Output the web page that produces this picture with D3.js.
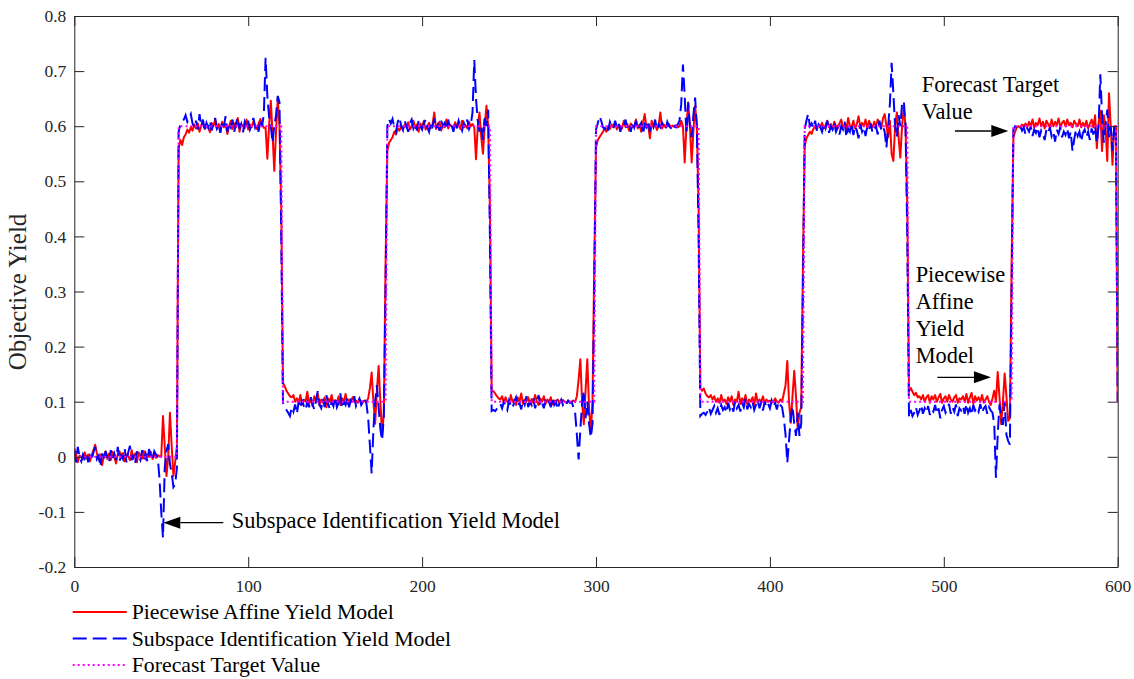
<!DOCTYPE html>
<html><head><meta charset="utf-8">
<script src="https://cdn.jsdelivr.net/npm/d3@7"></script>
<style>
body{margin:0;background:#fff}
svg{display:block}
text{font-family:"Liberation Serif","Times New Roman",serif}
</style>
</head><body>
<svg id="c" width="1134" height="679"></svg>
<script>
// ---------------- data ----------------
const xTicks = [0, 100, 200, 300, 400, 500, 600];
const xTickLabels = ["0", "100", "200", "300", "400", "500", "600"];
const yTicks = [-0.2, -0.1, 0, 0.1, 0.2, 0.3, 0.4, 0.5, 0.6, 0.7, 0.8];
const yTickLabels = ["-0.2", "-0.1", "0", "0.1", "0.2", "0.3", "0.4", "0.5", "0.6", "0.7", "0.8"];
const seriesNames = ["Piecewise Affine Yield Model", "Subspace Identification Yield Model", "Forecast Target Value"];

// Forecast target value (step breakpoints)
const targetT = [0, 59, 60, 119, 120, 179, 180, 239, 240, 299, 300, 359, 360, 419, 420, 479, 480, 539, 540, 599, 600];
const targetV = [0, 0, 0.6, 0.6, 0.1, 0.1, 0.6, 0.6, 0.1, 0.1, 0.6, 0.6, 0.1, 0.1, 0.6, 0.6, 0.1, 0.1, 0.6, 0.6, 0.1];

// Piecewise affine yield model, samples t = 0..600
const red = [
0.015,0.005,-0.01,0.002,0,-0.005,0.008,-0.003,0.004,-0.008,
0.003,0.012,0.022,0.006,-0.005,0.004,-0.015,0.002,0.01,-0.004,
0.006,-0.006,0.009,0,-0.012,0.005,0.01,-0.002,0.007,-0.008,
0.004,0,-0.006,0.012,-0.004,0.006,-0.01,0.008,0.002,-0.003,
0.01,-0.005,0.004,0,0.009,-0.004,0.006,-0.002,0.003,0.001,
0,0.074,0.02,-0.035,0,0.08,0.02,-0.035,-0.01,0.02,
0.56,0.575,0.566,0.58,0.585,0.594,0.588,0.598,0.592,0.603,
0.596,0.605,0.59,0.601,0.608,0.595,0.603,0.598,0.589,0.606,
0.6,0.612,0.595,0.604,0.59,0.608,0.598,0.603,0.586,0.6,
0.61,0.595,0.605,0.598,0.615,0.59,0.604,0.6,0.596,0.612,
0.594,0.603,0.598,0.609,0.6,0.595,0.605,0.613,0.603,0.597,
0.597,0.541,0.6,0.646,0.586,0.519,0.59,0.65,0.6,0.45,
0.134,0.128,0.12,0.115,0.11,0.108,0.112,0.1,0.106,0.098,
0.112,0.095,0.104,0.1,0.118,0.096,0.105,0.092,0.11,0.1,
0.114,0.094,0.104,0.098,0.108,0.09,0.106,0.1,0.112,0.096,
0.103,0.098,0.11,0.094,0.106,0.1,0.114,0.096,0.104,0.1,
0.108,0.1,0.102,0.098,0.104,0.1,0.099,0.102,0.1,0.106,
0.125,0.153,0.1,0.06,0.12,0.165,0.1,0.04,0.08,0.35,
0.555,0.57,0.575,0.58,0.59,0.585,0.596,0.592,0.6,0.595,
0.603,0.598,0.607,0.594,0.6,0.61,0.597,0.603,0.59,0.605,
0.598,0.61,0.594,0.6,0.606,0.596,0.603,0.625,0.595,0.6,
0.608,0.592,0.604,0.598,0.612,0.596,0.603,0.6,0.593,0.607,
0.6,0.604,0.595,0.61,0.598,0.602,0.596,0.608,0.6,0.604,
0.598,0.54,0.6,0.625,0.58,0.55,0.6,0.637,0.6,0.45,
0.12,0.119,0.115,0.11,0.106,0.104,0.11,0.098,0.108,0.1,
0.096,0.112,0.1,0.104,0.094,0.108,0.1,0.115,0.096,0.104,
0.1,0.108,0.095,0.105,0.098,0.112,0.1,0.094,0.106,0.1,
0.11,0.096,0.104,0.1,0.108,0.095,0.102,0.1,0.104,0.098,
0.1,0.103,0.1,0.098,0.101,0.1,0.099,0.102,0.1,0.11,
0.14,0.177,0.1,0.059,0.12,0.177,0.09,0.044,0.1,0.35,
0.561,0.575,0.58,0.585,0.59,0.596,0.59,0.6,0.595,0.603,
0.598,0.606,0.594,0.602,0.6,0.596,0.61,0.598,0.604,0.592,
0.605,0.598,0.6,0.612,0.596,0.603,0.59,0.606,0.622,0.598,
0.603,0.578,0.61,0.598,0.604,0.593,0.6,0.625,0.596,0.603,
0.598,0.6,0.604,0.597,0.601,0.599,0.602,0.598,0.6,0.61,
0.6,0.534,0.6,0.643,0.6,0.534,0.59,0.637,0.6,0.45,
0.125,0.12,0.124,0.115,0.11,0.108,0.112,0.104,0.11,0.1,
0.106,0.098,0.112,0.1,0.104,0.096,0.108,0.1,0.11,0.094,
0.104,0.1,0.118,0.096,0.106,0.1,0.112,0.095,0.104,0.1,
0.108,0.094,0.115,0.098,0.104,0.1,0.11,0.096,0.104,0.1,
0.102,0.098,0.1,0.106,0.1,0.098,0.104,0.1,0.115,0.13,
0.174,0.1,0.062,0.11,0.156,0.11,0.05,0.08,0.09,0.35,
0.564,0.578,0.584,0.59,0.586,0.595,0.6,0.594,0.603,0.598,
0.606,0.596,0.602,0.61,0.598,0.604,0.594,0.608,0.6,0.596,
0.605,0.612,0.598,0.603,0.594,0.615,0.6,0.598,0.61,0.596,
0.604,0.618,0.598,0.606,0.6,0.612,0.596,0.61,0.602,0.598,
0.608,0.6,0.612,0.604,0.596,0.614,0.622,0.6,0.58,0.61,
0.55,0.537,0.6,0.625,0.58,0.543,0.6,0.634,0.6,0.45,
0.119,0.125,0.118,0.112,0.116,0.108,0.11,0.104,0.112,0.1,
0.108,0.112,0.098,0.11,0.104,0.112,0.1,0.108,0.114,0.098,
0.106,0.11,0.1,0.112,0.104,0.1,0.108,0.112,0.098,0.106,
0.104,0.11,0.1,0.114,0.098,0.108,0.116,0.096,0.11,0.102,
0.108,0.1,0.112,0.098,0.104,0.11,0.1,0.094,0.106,0.12,
0.1,0.154,0.11,0.059,0.1,0.151,0.11,0.065,0.07,0.35,
0.579,0.59,0.598,0.6,0.597,0.603,0.6,0.605,0.598,0.608,
0.6,0.612,0.598,0.606,0.602,0.614,0.6,0.608,0.596,0.61,
0.604,0.598,0.612,0.6,0.608,0.602,0.614,0.598,0.606,0.61,
0.6,0.612,0.602,0.606,0.598,0.61,0.604,0.6,0.612,0.598,
0.606,0.6,0.61,0.596,0.604,0.612,0.598,0.62,0.56,0.605,
0.628,0.555,0.62,0.6,0.537,0.66,0.6,0.53,0.6,0.6,
0.1
];

// Subspace identification yield model, samples t = 0..600
const blue = [
0.01,-0.01,0.018,0,-0.008,0.004,-0.003,0.006,-0.01,0.002,
-0.005,0.008,0.018,-0.004,0.002,-0.018,0.006,-0.006,0.01,0,
-0.01,0.012,-0.003,0.006,-0.006,0.018,-0.008,0.003,-0.004,0.014,
-0.01,0.008,0.02,-0.006,0.004,-0.012,0.01,0,-0.006,0.012,
-0.004,0.006,-0.008,0.014,0,-0.006,0.01,0.004,-0.002,-0.04,
-0.1,-0.147,-0.02,0.01,0.023,-0.013,-0.03,-0.055,-0.05,-0.02,
0.59,0.603,0.608,0.612,0.62,0.608,0.615,0.622,0.605,0.598,
0.61,0.594,0.622,0.6,0.612,0.59,0.606,0.598,0.61,0.592,
0.605,0.615,0.596,0.603,0.588,0.61,0.6,0.618,0.59,0.605,
0.598,0.612,0.59,0.606,0.615,0.595,0.604,0.589,0.608,0.6,
0.61,0.594,0.603,0.615,0.598,0.606,0.59,0.612,0.6,0.622,
0.724,0.655,0.618,0.6,0.57,0.6,0.62,0.655,0.643,0.4,
0.098,0.09,0.085,0.08,0.074,0.09,0.082,0.095,0.078,0.1,
0.088,0.104,0.092,0.085,0.1,0.09,0.108,0.095,0.086,0.102,
0.119,0.094,0.088,0.105,0.09,0.112,0.096,0.086,0.1,0.092,
0.108,0.09,0.098,0.115,0.088,0.1,0.094,0.108,0.09,0.102,
0.096,0.11,0.092,0.1,0.106,0.094,0.1,0.108,0.096,0.07,
0.02,-0.03,0.05,0.1,0.13,0.09,0.05,0.03,0.074,0.3,
0.6,0.613,0.605,0.613,0.598,0.59,0.608,0.616,0.6,0.593,
0.61,0.6,0.59,0.606,0.612,0.596,0.604,0.592,0.61,0.6,
0.594,0.605,0.612,0.598,0.59,0.608,0.6,0.614,0.596,0.603,
0.592,0.61,0.6,0.606,0.594,0.612,0.598,0.604,0.59,0.608,
0.596,0.61,0.6,0.592,0.606,0.598,0.612,0.595,0.603,0.625,
0.72,0.65,0.61,0.59,0.6,0.575,0.62,0.6,0.63,0.4,
0.083,0.085,0.083,0.087,0.09,0.096,0.088,0.1,0.092,0.085,
0.102,0.094,0.088,0.1,0.108,0.092,0.098,0.086,0.104,0.095,
0.11,0.09,0.1,0.094,0.106,0.088,0.1,0.112,0.092,0.098,
0.088,0.104,0.096,0.1,0.09,0.108,0.094,0.1,0.086,0.098,
0.104,0.094,0.1,0.096,0.102,0.098,0.1,0.09,0.08,0.04,
-0.005,0.05,0.096,0.12,0.07,0.1,0.06,0.035,0.06,0.3,
0.594,0.605,0.618,0.61,0.598,0.595,0.603,0.592,0.608,0.6,
0.596,0.61,0.598,0.606,0.59,0.604,0.6,0.612,0.596,0.603,
0.59,0.608,0.598,0.61,0.594,0.6,0.606,0.585,0.603,0.598,
0.61,0.59,0.604,0.598,0.612,0.594,0.603,0.598,0.606,0.6,
0.594,0.608,0.6,0.597,0.604,0.6,0.598,0.603,0.61,0.64,
0.712,0.655,0.585,0.643,0.6,0.58,0.62,0.652,0.6,0.4,
0.074,0.078,0.08,0.076,0.082,0.09,0.078,0.085,0.092,0.08,
0.088,0.076,0.094,0.085,0.09,0.08,0.098,0.086,0.093,0.082,
0.1,0.088,0.094,0.082,0.098,0.09,0.105,0.086,0.096,0.09,
0.1,0.085,0.094,0.104,0.088,0.098,0.084,0.1,0.09,0.096,
0.088,0.102,0.092,0.098,0.086,0.1,0.094,0.09,0.07,0.04,
-0.011,0.029,0.07,0.092,0.06,0.038,0.08,0.038,0.06,0.3,
0.595,0.61,0.622,0.6,0.605,0.596,0.61,0.592,0.603,0.598,
0.59,0.605,0.596,0.61,0.588,0.6,0.594,0.606,0.59,0.598,
0.585,0.6,0.594,0.608,0.58,0.596,0.59,0.605,0.584,0.6,
0.592,0.578,0.603,0.59,0.598,0.582,0.6,0.594,0.605,0.588,
0.596,0.6,0.585,0.61,0.594,0.6,0.59,0.561,0.6,0.64,
0.715,0.66,0.6,0.58,0.62,0.6,0.64,0.646,0.6,0.4,
0.071,0.085,0.074,0.08,0.09,0.076,0.084,0.094,0.078,0.088,
0.08,0.092,0.076,0.086,0.082,0.094,0.078,0.088,0.07,0.085,
0.092,0.08,0.086,0.096,0.078,0.09,0.082,0.095,0.074,0.088,
0.084,0.092,0.078,0.096,0.08,0.088,0.076,0.094,0.084,0.09,
0.082,0.096,0.08,0.088,0.092,0.078,0.09,0.084,0.08,0.06,
-0.038,0.04,0.095,0.07,0.058,0.1,0.04,0.029,0.022,0.3,
0.594,0.6,0.598,0.596,0.6,0.592,0.598,0.585,0.596,0.59,
0.6,0.582,0.594,0.588,0.598,0.58,0.592,0.586,0.575,0.594,
0.588,0.598,0.582,0.59,0.572,0.594,0.586,0.598,0.58,0.59,
0.584,0.596,0.578,0.59,0.555,0.576,0.594,0.582,0.59,0.572,
0.588,0.594,0.58,0.59,0.575,0.596,0.585,0.6,0.57,0.6,
0.694,0.62,0.57,0.6,0.63,0.58,0.6,0.555,0.6,0.58,
0.1
];

// ---------------- drawing ----------------
const svg = d3.select("#c");
const x = d3.scaleLinear().domain([0, 600]).range([74.3, 1117.7]);
const y = d3.scaleLinear().domain([-0.2, 0.8]).range([567, 16]);
const axisColor = "#262626";
const tickFont = "17.5px";

svg.append("defs").append("clipPath").attr("id", "clip")
  .append("rect").attr("x", x(0)).attr("y", y(0.8))
  .attr("width", x(600) - x(0)).attr("height", y(-0.2) - y(0.8));

const plot = svg.append("g").attr("clip-path", "url(#clip)");

const lineIdx = d3.line().x((d, i) => x(i)).y(d => y(d));
const lineTarget = d3.line().x((d, i) => x(targetT[i])).y(d => y(d));

plot.append("path").datum(red).attr("d", lineIdx)
  .attr("fill", "none").attr("stroke", "#ff0000").attr("stroke-width", 2)
  .attr("stroke-linejoin", "round");
plot.append("path").datum(blue).attr("d", lineIdx)
  .attr("fill", "none").attr("stroke", "#0000ff").attr("stroke-width", 2)
  .attr("stroke-dasharray", "14,6");
plot.append("path").datum(targetV).attr("d", lineTarget)
  .attr("fill", "none").attr("stroke", "#ff00ff").attr("stroke-width", 2)
  .attr("stroke-dasharray", "2,3");

// axes (box with inward ticks)
function styleAxis(g) {
  g.selectAll("path.domain").attr("stroke", axisColor).attr("stroke-width", 1);
  g.selectAll(".tick line").attr("stroke", axisColor);
  g.selectAll(".tick text").attr("fill", axisColor)
    .style("font-family", '"Liberation Serif","Times New Roman",serif')
    .style("font-size", tickFont);
}
svg.append("g").attr("transform", `translate(0,${y(-0.2)})`)
  .call(d3.axisBottom(x).tickValues(xTicks).tickFormat((d, i) => xTickLabels[i])
    .tickSizeInner(-10).tickSizeOuter(0).tickPadding(13))
  .call(styleAxis);
svg.append("g").attr("transform", `translate(0,${y(0.8)})`)
  .call(d3.axisTop(x).tickValues(xTicks).tickFormat("")
    .tickSizeInner(-10).tickSizeOuter(0))
  .call(styleAxis);
svg.append("g").attr("transform", `translate(${x(0)},0)`)
  .call(d3.axisLeft(y).tickValues(yTicks).tickFormat((d, i) => yTickLabels[i])
    .tickSizeInner(-10).tickSizeOuter(0).tickPadding(8))
  .call(styleAxis);
svg.append("g").attr("transform", `translate(${x(600)},0)`)
  .call(d3.axisRight(y).tickValues(yTicks).tickFormat("")
    .tickSizeInner(-10).tickSizeOuter(0))
  .call(styleAxis);

// y axis title
svg.append("text")
  .attr("transform", `translate(26,292) rotate(-90)`)
  .attr("text-anchor", "middle")
  .style("font-size", "25px").attr("fill", axisColor)
  .text("Objective Yield");

// annotations
const annFont = "22.4px";
function arrow(tailT, tipT, v) {
  const y0 = y(v), xt = x(tipT), xs = x(tailT);
  const dir = xt > xs ? 1 : -1;
  const headL = 17, headW = 6;
  svg.append("line").attr("x1", xs).attr("x2", xt - dir * headL)
    .attr("y1", y0).attr("y2", y0).attr("stroke", "#000").attr("stroke-width", 1.3);
  svg.append("path")
    .attr("d", `M${xt},${y0}L${xt - dir * headL},${y0 - headW}L${xt - dir * headL},${y0 + headW}Z`)
    .attr("fill", "#000");
}
function multiText(t, vs, lines) {
  lines.forEach((s, i) => {
    svg.append("text").attr("x", x(t)).attr("y", y(vs[i]))
      .style("font-size", annFont).attr("fill", "#000").text(s);
  });
}
multiText(90.6, [-0.1292], [seriesNames[1]]);
arrow(85.7, 51.2, -0.1196);
multiText(487.3, [0.6615, 0.6125], ["Forecast Target", "Value"]);
arrow(506.4, 537.1, 0.5913);
multiText(483.8, [0.3167, 0.2677, 0.2192, 0.1697], ["Piecewise", "Affine", "Yield", "Model"]);
arrow(496.3, 527.1, 0.1443);

// legend
const legendStyles = [
  {stroke: "#ff0000", dash: null, w: 2},
  {stroke: "#0000ff", dash: "14,6", w: 2},
  {stroke: "#ff00ff", dash: "2,3", w: 2}
];
const legY = [612, 638.5, 665];
seriesNames.forEach((name, i) => {
  const st = legendStyles[i];
  const ln = svg.append("line").attr("x1", 72.7).attr("x2", 126.7)
    .attr("y1", legY[i]).attr("y2", legY[i])
    .attr("stroke", st.stroke).attr("stroke-width", st.w);
  if (st.dash) ln.attr("stroke-dasharray", st.dash);
  svg.append("text").attr("x", 131.7).attr("y", legY[i] + 7)
    .style("font-size", "21.8px").attr("fill", "#000").text(name);
});
</script>
</body></html>
